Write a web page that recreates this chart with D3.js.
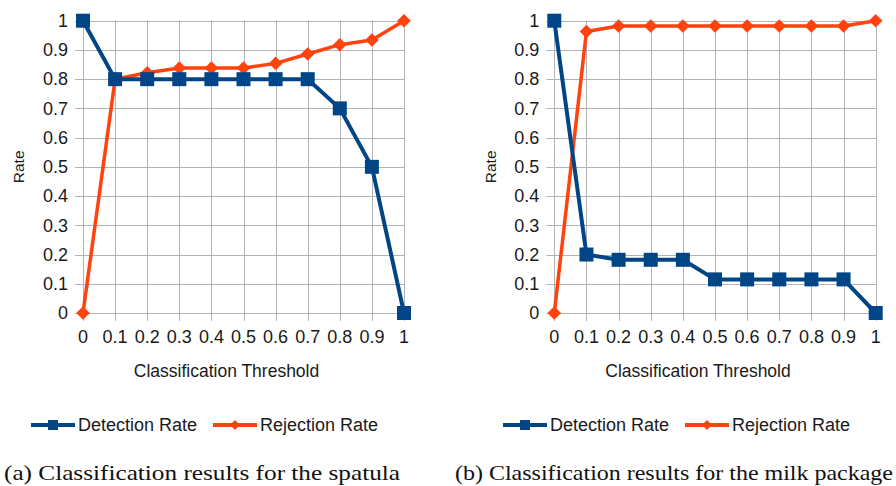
<!DOCTYPE html>
<html><head><meta charset="utf-8">
<script src="https://cdn.jsdelivr.net/npm/d3@7"></script>
<style>
html,body{margin:0;padding:0;background:#fff;}
svg{display:block;}
</style></head>
<body>
<svg id="chart" width="896" height="486"></svg>
<script>
const thresholds = [0, 0.1, 0.2, 0.3, 0.4, 0.5, 0.6, 0.7, 0.8, 0.9, 1];
const xTickLabels = ["0","0.1","0.2","0.3","0.4","0.5","0.6","0.7","0.8","0.9","1"];
const yTicks = [0, 0.1, 0.2, 0.3, 0.4, 0.5, 0.6, 0.7, 0.8, 0.9, 1];
const yTickLabels = ["0","0.1","0.2","0.3","0.4","0.5","0.6","0.7","0.8","0.9","1"];
const seriesNames = ["Detection Rate", "Rejection Rate"];
const spatulaDetection = [1, 0.8, 0.8, 0.8, 0.8, 0.8, 0.8, 0.8, 0.7, 0.5, 0];
const spatulaRejection = [0, 0.8, 0.822, 0.838, 0.838, 0.838, 0.854, 0.886, 0.918, 0.934, 1];
const milkDetection = [1, 0.2, 0.182, 0.182, 0.182, 0.115, 0.115, 0.115, 0.115, 0.115, 0];
const milkRejection = [0, 0.963, 0.982, 0.982, 0.982, 0.982, 0.982, 0.982, 0.982, 0.982, 1];
const captions = ["(a) Classification results for the spatula", "(b) Classification results for the milk package"];
const xTitle = "Classification Threshold";
const yTitle = "Rate";

const BLUE = "#004586", ORANGE = "#ff420e", GRID = "#b3b3b3", TXT = "#1a1a1a";
const SANS = "Liberation Sans, Arial, sans-serif";
const svg = d3.select("#chart");

function drawPanel(opts) {
  const {x0, x1, y0, y1, det, rej, legendX, captionX, captionW, caption, rateX} = opts;
  const g = svg.append("g");
  const x = d3.scaleLinear().domain([0, 1]).range([x0, x1]);
  const y = d3.scaleLinear().domain([0, 1]).range([y0, y1]);

  g.append("g").selectAll("line").data(yTicks).join("line")
    .attr("x1", x0 - 8).attr("x2", x1)
    .attr("y1", d => Math.round(y(d)) + 0.5).attr("y2", d => Math.round(y(d)) + 0.5)
    .attr("stroke", GRID).attr("stroke-width", 1);
  g.append("g").selectAll("line").data(thresholds).join("line")
    .attr("x1", d => Math.round(x(d)) + 0.5).attr("x2", d => Math.round(x(d)) + 0.5)
    .attr("y1", y1).attr("y2", y0 + 8)
    .attr("stroke", GRID).attr("stroke-width", 1);

  g.append("g").selectAll("text").data(yTicks).join("text")
    .attr("x", x0 - 15).attr("y", d => y(d)).attr("dy", "0.35em")
    .attr("text-anchor", "end").attr("font-family", SANS)
    .attr("font-size", 18).attr("fill", TXT)
    .text((d, i) => yTickLabels[i]);
  g.append("g").selectAll("text").data(thresholds).join("text")
    .attr("x", d => x(d)).attr("y", y0 + 30)
    .attr("text-anchor", "middle").attr("font-family", SANS)
    .attr("font-size", 18).attr("fill", TXT)
    .text((d, i) => xTickLabels[i]);

  g.append("text").attr("x", (x0 + x1) / 2 - 17).attr("y", y0 + 64)
    .attr("text-anchor", "middle").attr("font-family", SANS)
    .attr("font-size", 17.5).attr("fill", TXT).text(xTitle);
  g.append("text").attr("transform", `translate(${rateX},${(y0 + y1) / 2}) rotate(-90)`)
    .attr("text-anchor", "middle").attr("font-family", SANS)
    .attr("font-size", 15.5).attr("fill", TXT).text(yTitle);

  const line = d3.line().x((d, i) => x(thresholds[i])).y(d => y(d));

  g.append("path").datum(rej).attr("d", line).attr("fill", "none")
    .attr("stroke", ORANGE).attr("stroke-width", 3.5).attr("stroke-linejoin", "round");
  g.append("g").selectAll("path").data(rej).join("path")
    .attr("transform", (d, i) => `translate(${x(thresholds[i])},${y(d)}) rotate(45)`)
    .attr("d", d3.symbol().type(d3.symbolSquare).size(92)).attr("fill", ORANGE);

  g.append("path").datum(det).attr("d", line).attr("fill", "none")
    .attr("stroke", BLUE).attr("stroke-width", 4).attr("stroke-linejoin", "round");
  g.append("g").selectAll("rect").data(det).join("rect")
    .attr("x", (d, i) => x(thresholds[i]) - 7).attr("y", d => y(d) - 7)
    .attr("width", 14).attr("height", 14).attr("fill", BLUE);

  const lg = g.append("g").attr("transform", `translate(${legendX},425)`);
  const items = [
    {name: seriesNames[0], color: BLUE, sym: "sq", dx: 0},
    {name: seriesNames[1], color: ORANGE, sym: "dia", dx: 182}
  ];
  items.forEach(it => {
    const ig = lg.append("g").attr("transform", `translate(${it.dx},0)`);
    ig.append("line").attr("x1", 0).attr("x2", 44).attr("y1", 0).attr("y2", 0)
      .attr("stroke", it.color).attr("stroke-width", 4);
    if (it.sym === "sq") {
      ig.append("rect").attr("x", 17).attr("y", -5).attr("width", 10).attr("height", 10).attr("fill", it.color);
    } else {
      ig.append("path").attr("transform", "translate(22,0) rotate(45)")
        .attr("d", d3.symbol().type(d3.symbolSquare).size(50)).attr("fill", it.color);
    }
    ig.append("text").attr("x", 47).attr("y", 0).attr("dy", "0.35em")
      .attr("font-family", SANS).attr("font-size", 18)
      .attr("fill", TXT).text(it.name);
  });

  g.append("text").attr("x", captionX).attr("y", 480)
    .attr("font-family", "Liberation Serif, Times New Roman, serif").attr("font-size", 21.5)
    .attr("textLength", captionW).attr("lengthAdjust", "spacingAndGlyphs")
    .attr("fill", "#111").text(caption);
}

drawPanel({x0: 83, x1: 404, y0: 313, y1: 20.7, det: spatulaDetection, rej: spatulaRejection,
  legendX: 31, captionX: 4, captionW: 396, caption: captions[0], rateX: 24});
drawPanel({x0: 554.3, x1: 875.7, y0: 313, y1: 20.7, det: milkDetection, rej: milkRejection,
  legendX: 503, captionX: 455, captionW: 438, caption: captions[1], rateX: 496});
</script>
</body></html>
